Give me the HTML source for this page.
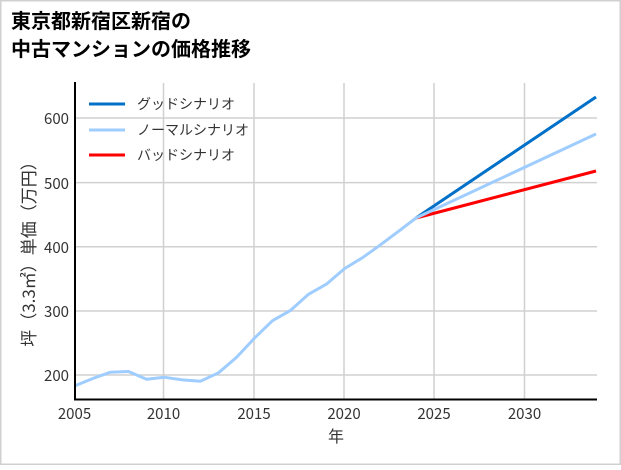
<!DOCTYPE html>
<html><head><meta charset="utf-8"><style>
body{margin:0;background:#fff}
.f{font-family:"Noto Sans CJK JP",sans-serif}
</style></head><body>
<svg width="621" height="465" xmlns="http://www.w3.org/2000/svg" class="f">
<rect x="0.5" y="0.5" width="620" height="464" fill="#fff" stroke="#d0d0d0" stroke-width="2"/>
<text x="11" y="28" font-size="20" font-weight="bold" fill="#000">東京都新宿区新宿の</text>
<text x="11" y="56" font-size="20" font-weight="bold" fill="#000">中古マンションの価格推移</text>
<g stroke="#d0d0d0" stroke-width="1.5">
<line x1="163.5" y1="83" x2="163.5" y2="399"/><line x1="254" y1="83" x2="254" y2="399"/>
<line x1="344" y1="83" x2="344" y2="399"/><line x1="434" y1="83" x2="434" y2="399"/>
<line x1="524.5" y1="83" x2="524.5" y2="399"/>
<line x1="75" y1="118" x2="597" y2="118"/><line x1="75" y1="182.6" x2="597" y2="182.6"/>
<line x1="75" y1="246.8" x2="597" y2="246.8"/><line x1="75" y1="311" x2="597" y2="311"/>
<line x1="75" y1="375" x2="597" y2="375"/>
</g>
<g fill="none" stroke-width="3" stroke-linejoin="round">
<polyline stroke="#0070c8" points="416,218 596,97"/>
<polyline stroke="#ff0000" points="416,218 596,171"/>
<polyline stroke="#9fcdff" points="74.5,386 92.5,378.6 110.5,372.2 128.5,371.5 146.5,379.3 164.5,377.3 182.5,379.9 200.5,381.2 218.5,372.8 236.5,357.4 254.5,338.1 272.5,320.7 290.5,310.4 308.5,294.3 326.5,284.1 344.5,268.6 362.5,257.7 380.5,244.8 398.5,231.3 416,218 596,134"/>
</g>
<line x1="75" y1="82" x2="75" y2="400" stroke="#000" stroke-width="2"/>
<line x1="74" y1="399.5" x2="597" y2="399.5" stroke="#000" stroke-width="2"/>
<g font-size="15" fill="#333" text-anchor="end">
<text x="69" y="124">600</text><text x="69" y="189">500</text><text x="69" y="253">400</text>
<text x="69" y="317">300</text><text x="69" y="381">200</text>
</g>
<g font-size="15" fill="#333" text-anchor="middle">
<text x="74.5" y="419">2005</text><text x="163.5" y="419">2010</text><text x="254" y="419">2015</text>
<text x="344" y="419">2020</text><text x="434" y="419">2025</text><text x="524.5" y="419">2030</text>
<text x="336" y="442" font-size="16">年</text>
</g>
<text transform="translate(35,250) rotate(-90)" font-size="17" fill="#333" text-anchor="middle">坪（3.3㎡）単価（万円）</text>
<g stroke-width="3">
<line x1="89" y1="104" x2="125" y2="104" stroke="#0070c8"/>
<line x1="89" y1="130" x2="125" y2="130" stroke="#9fcdff"/>
<line x1="89" y1="155" x2="125" y2="155" stroke="#ff0000"/>
</g>
<g font-size="14" fill="#333">
<text x="137" y="109">グッドシナリオ</text>
<text x="137" y="135">ノーマルシナリオ</text>
<text x="137" y="160">バッドシナリオ</text>
</g>
</svg>
</body></html>
